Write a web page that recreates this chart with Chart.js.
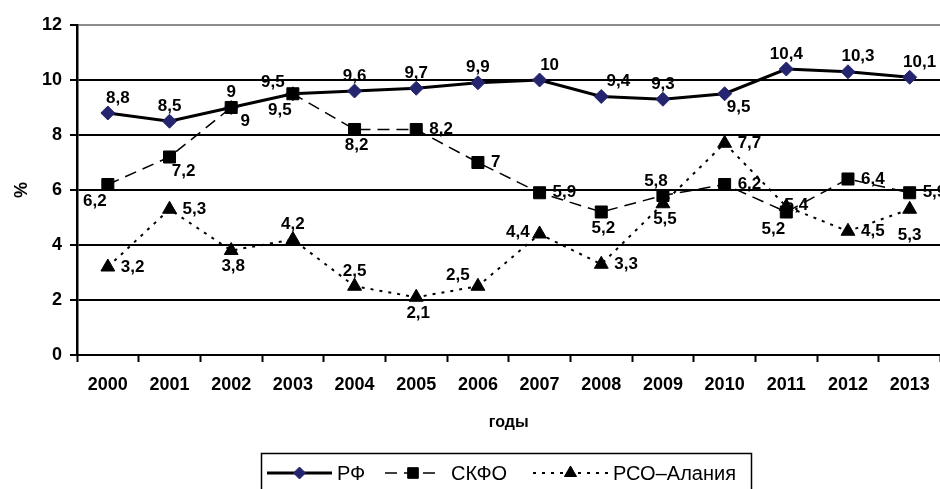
<!DOCTYPE html>
<html>
<head>
<meta charset="utf-8">
<script src="https://cdn.jsdelivr.net/npm/chart.js@4.4.1/dist/chart.umd.min.js"></script>
<style>
  html, body { margin: 0; padding: 0; background: #fff; overflow: hidden; }
  #wrap { width: 950px; height: 489px; }
</style>
</head>
<body>
<div id="wrap"><canvas id="chart"></canvas></div>
<script>
const years = ["2000", "2001", "2002", "2003", "2004", "2005", "2006", "2007", "2008", "2009", "2010", "2011", "2012", "2013"];
const rfValues = [8.8, 8.5, 9, 9.5, 9.6, 9.7, 9.9, 10, 9.4, 9.3, 9.5, 10.4, 10.3, 10.1];
const skfoValues = [6.2, 7.2, 9, 9.5, 8.2, 8.2, 7, 5.9, 5.2, 5.8, 6.2, 5.2, 6.4, 5.9];
const rsoValues = [3.2, 5.3, 3.8, 4.2, 2.5, 2.1, 2.5, 4.4, 3.3, 5.5, 7.7, 5.4, 4.5, 5.3];
const yTickValues = [0, 2, 4, 6, 8, 10, 12];
const seriesNames = ["РФ", "СКФО", "РСО–Алания"];

// where each value label sits relative to its point
const rfLabelPos = ["ar", "a", "a", "al", "a", "a", "a", "ar", "ar2", "a", "br", "a", "ar", "ar"];
const skfoLabelPos = ["bl", "br", "br", "bl", "b", "r", "r", "r", "b", "al2", "r", "bl", "r", "r"];
const rsoLabelPos = ["r", "r", "b", "a", "a", "b", "al", "l", "r", "b", "r", "o", "r", "bb"];

const FONT = '"Liberation Sans", Arial, sans-serif';

const labelAnchors = {
  a: ["center", 0, -15],
  b: ["center", 2, 16],
  bb: ["center", 0, 26],
  r: ["left", 13, 0],
  l: ["right", -10, -2],
  ar: ["center", 10, -15],
  ar2: ["center", 17, -15],
  al: ["center", -20, -11],
  al2: ["center", -7, -14],
  br: ["center", 14, 14],
  bl: ["center", -13, 17],
  o: ["center", 10, -1]
};

const valueLabels = {
  id: "valueLabels",
  afterDatasetsDraw(chart) {
    const ctx = chart.ctx;
    ctx.save();
    ctx.font = "bold 17px " + FONT;
    ctx.fillStyle = "#000";
    ctx.textBaseline = "middle";
    chart.data.datasets.forEach((ds, i) => {
      const meta = chart.getDatasetMeta(i);
      meta.data.forEach((pt, j) => {
        const a = labelAnchors[ds.labelPos[j]];
        ctx.textAlign = a[0];
        ctx.fillText(String(ds.data[j]).replace(".", ","), pt.x + a[1], pt.y + a[2]);
      });
    });
    ctx.restore();
  }
};

// legend in a frame below the axis title
const boxLegend = {
  id: "boxLegend",
  afterDraw(chart) {
    const ctx = chart.ctx;
    const y = 473;
    const items = [
      { x0: 267, x1: 332, tx: 337 },
      { x0: 385, x1: 441, tx: 451 },
      { x0: 533, x1: 608, tx: 613 }
    ];
    ctx.save();
    ctx.strokeStyle = "#000";
    ctx.lineWidth = 1.5;
    ctx.strokeRect(261.5, 453.5, 490, 60);
    items.forEach((it, i) => {
      const ds = chart.data.datasets[i];
      ctx.beginPath();
      ctx.setLineDash(ds.borderDash || []);
      ctx.lineWidth = ds.borderWidth;
      ctx.strokeStyle = ds.borderColor;
      ctx.moveTo(it.x0, y);
      ctx.lineTo(it.x1, y);
      ctx.stroke();
      ctx.setLineDash([]);
      ctx.fillStyle = ds.pointBackgroundColor;
      ctx.strokeStyle = ds.pointBorderColor;
      ctx.lineWidth = 1;
      Chart.helpers.drawPoint(ctx, { pointStyle: ds.pointStyle, radius: ds.pointRadius - 1, borderWidth: 1, rotation: 0 }, (it.x0 + it.x1) / 2, y);
      ctx.fillStyle = "#000";
      ctx.font = "20px " + FONT;
      ctx.textAlign = "left";
      ctx.textBaseline = "middle";
      ctx.fillText(seriesNames[i], it.tx, y + 1);
    });
    ctx.restore();
  }
};

new Chart(document.getElementById("chart"), {
  type: "line",
  data: {
    labels: years,
    datasets: [
      {
        label: seriesNames[0],
        data: rfValues,
        labelPos: rfLabelPos,
        borderColor: "#000",
        borderWidth: 3,
        pointStyle: "rectRot",
        pointRadius: 7,
        pointBackgroundColor: "#25256f",
        pointBorderColor: "#25256f",
        pointBorderWidth: 1,
        tension: 0,
        order: 3
      },
      {
        label: seriesNames[1],
        data: skfoValues,
        labelPos: skfoLabelPos,
        borderColor: "#000",
        borderWidth: 1.5,
        borderDash: [12, 7],
        pointStyle: "rect",
        pointRadius: 8.5,
        pointBackgroundColor: "#000",
        pointBorderColor: "#000",
        pointBorderWidth: 1,
        tension: 0,
        order: 2
      },
      {
        label: seriesNames[2],
        data: rsoValues,
        labelPos: rsoLabelPos,
        borderColor: "#000",
        borderWidth: 2,
        borderDash: [3, 6],
        pointStyle: "triangle",
        pointRadius: 8,
        pointBackgroundColor: "#000",
        pointBorderColor: "#000",
        pointBorderWidth: 1,
        tension: 0,
        order: 1
      }
    ]
  },
  options: {
    responsive: true,
    maintainAspectRatio: false,
    animation: false,
    layout: { padding: { left: 0, right: 4, top: 25, bottom: 39 } },
    plugins: {
      legend: { display: false },
      tooltip: { enabled: false }
    },
    scales: {
      x: {
        offset: true,
        afterFit(scale) { scale.height = 95; },
        border: { color: "#000", width: 2 },
        grid: {
          offset: true,
          drawOnChartArea: false,
          drawTicks: true,
          tickLength: 7,
          tickColor: "#000",
          tickWidth: 2
        },
        ticks: {
          color: "#000",
          padding: 12,
          maxRotation: 0,
          font: { family: FONT, size: 18, weight: "bold" }
        },
        title: {
          display: true,
          text: "годы",
          color: "#000",
          padding: { top: 20, bottom: 18 },
          font: { family: FONT, size: 16, weight: "bold" }
        }
      },
      y: {
        min: 0,
        max: 12,
        afterFit(scale) { scale.width = 77; },
        afterBuildTicks(scale) { scale.ticks = yTickValues.map(v => ({ value: v })); },
        border: { color: "#000", width: 2.5 },
        grid: {
          color: ctx => (ctx.tick && ctx.tick.value === 12 ? "#8c8c8c" : "#000"),
          lineWidth: 2,
          tickLength: 7,
          tickColor: "#000",
          tickWidth: 2
        },
        ticks: {
          color: "#000",
          padding: 8,
          font: { family: FONT, size: 18, weight: "bold" }
        },
        title: {
          display: true,
          text: "%",
          color: "#000",
          padding: { top: 11, bottom: 0 },
          font: { family: FONT, size: 18, weight: "bold" }
        }
      }
    }
  },
  plugins: [valueLabels, boxLegend]
});
</script>
</body>
</html>
